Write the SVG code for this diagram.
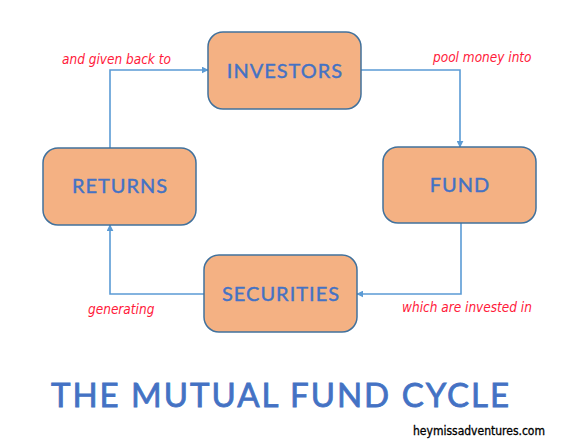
<svg xmlns="http://www.w3.org/2000/svg" width="580" height="448" viewBox="0 0 580 448">
<defs>
<marker id="ah" viewBox="0 0 10 10" refX="9" refY="5" markerWidth="7" markerHeight="7" markerUnits="userSpaceOnUse" orient="auto">
<path d="M0,0 L10,5 L0,10 z" fill="#5b9bd5"/>
</marker>
<style>
.box{fill:#f4b183;stroke:#41719c;stroke-width:1.5}
.nt{font-family:"Lato","Open Sans",sans-serif;font-size:20px;fill:#4472c4;stroke:#4472c4;stroke-width:0.4;text-anchor:middle;letter-spacing:1px}
.cn{fill:none;stroke:#5b9bd5;stroke-width:1.6;marker-end:url(#ah)}
.lb{font-family:"DejaVu Sans Condensed","DejaVu Sans",sans-serif;font-size:13.5px;fill:#ff1a3a;font-style:italic}
</style>
</defs>
<rect width="580" height="448" fill="#ffffff"/>
<g id="connectors">
<path class="cn" d="M361,70 H460 V147"/>
<path class="cn" d="M461,223 V294 H357"/>
<path class="cn" d="M204,294 H110 V225"/>
<path class="cn" d="M110,148 V70 H208"/>
</g>
<g id="investors"><rect class="box" x="208" y="32" width="153" height="77" rx="15"/><text class="nt" x="285" y="78">INVESTORS</text></g>
<g id="fund"><rect class="box" x="383" y="147" width="153" height="76" rx="15"/><text class="nt" x="460" y="192">FUND</text></g>
<g id="securities"><rect class="box" x="204" y="255" width="153" height="77" rx="15"/><text class="nt" x="281" y="301">SECURITIES</text></g>
<g id="returns"><rect class="box" x="43" y="148" width="153" height="77" rx="15"/><text class="nt" x="120" y="193">RETURNS</text></g>
<g id="labels">
<text class="lb" x="62" y="64">and given back to</text>
<text class="lb" x="433" y="62">pool money into</text>
<text class="lb" x="402" y="312">which are invested in</text>
<text class="lb" x="88" y="314">generating</text>
</g>
<text x="281" y="407" font-family="Lato,'Open Sans',sans-serif" font-size="33" fill="#4472c4" stroke="#4472c4" stroke-width="0.8" text-anchor="middle" letter-spacing="2">THE MUTUAL FUND CYCLE</text>
<text x="545" y="435" font-family="'DejaVu Sans Condensed','DejaVu Sans',sans-serif" font-size="12" fill="#000" stroke="#000" stroke-width="0.3" text-anchor="end">heymissadventures.com</text>
</svg>
